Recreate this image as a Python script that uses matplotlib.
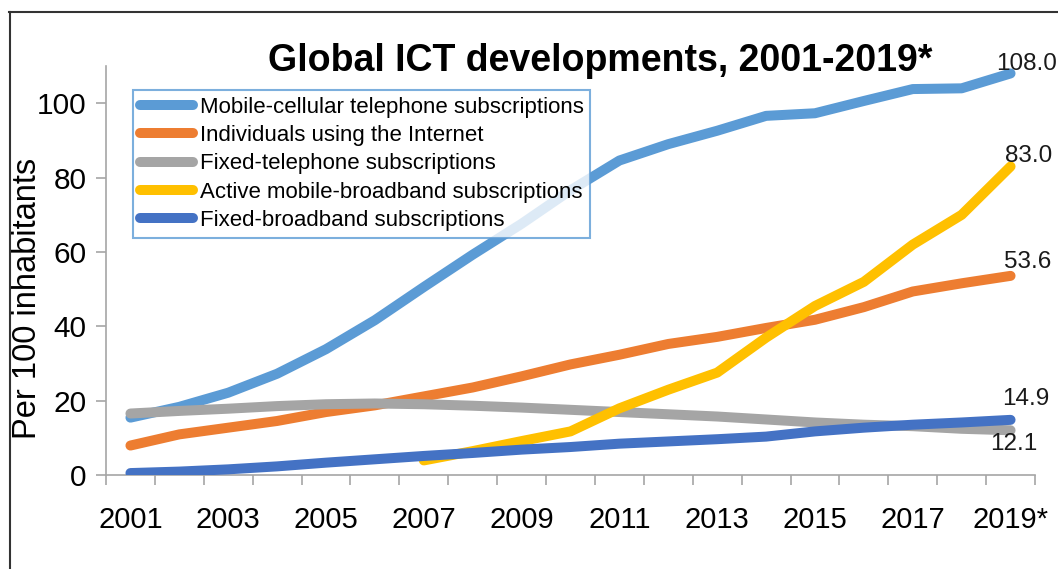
import matplotlib
matplotlib.use("Agg")
import matplotlib.pyplot as plt
import numpy as np

plt.rcParams['font.family'] = ['Liberation Sans', 'DejaVu Sans']

years = [str(y) for y in range(2001, 2020)]
tick_labels = ["2001", "2003", "2005", "2007", "2009", "2011", "2013", "2015", "2017", "2019*"]

mobile_cellular = [15.5, 18.4, 22.2, 27.3, 33.9, 41.7, 50.6, 59.3, 67.6, 76.6,
                   84.6, 89.0, 92.6, 96.6, 97.3, 100.6, 103.8, 104.0, 108.0]
internet_users = [8.0, 11.0, 12.8, 14.6, 17.0, 18.8, 21.2, 23.6, 26.6, 29.8,
                  32.4, 35.3, 37.2, 39.6, 41.8, 45.2, 49.4, 51.6, 53.6]
fixed_telephone = [16.6, 17.3, 17.9, 18.6, 19.1, 19.3, 19.1, 18.7, 18.2, 17.6,
                   17.0, 16.4, 15.8, 15.0, 14.2, 13.6, 13.2, 12.5, 12.1]
mobile_broadband = [None, None, None, None, None, None, 4.0, 6.5, 9.2, 11.8,
                    18.0, 23.0, 27.6, 37.0, 45.5, 52.0, 62.0, 70.0, 83.0]
fixed_broadband = [0.6, 1.0, 1.6, 2.4, 3.4, 4.3, 5.2, 6.0, 6.9, 7.6,
                   8.5, 9.1, 9.7, 10.4, 11.8, 12.8, 13.6, 14.2, 14.9]

series = [
    ("Mobile-cellular telephone subscriptions", mobile_cellular, "#5B9BD5"),
    ("Individuals using the Internet", internet_users, "#ED7D31"),
    ("Fixed-telephone subscriptions", fixed_telephone, "#A5A5A5"),
    ("Active mobile-broadband subscriptions", mobile_broadband, "#FFC000"),
    ("Fixed-broadband subscriptions", fixed_broadband, "#4472C4"),
]
end_labels = ["108.0", "53.6", "12.1", "83.0", "14.9"]
label_offsets = [(16, 9), (17, 14), (3, -14), (18, 10), (15, 21)]

fig = plt.figure(figsize=(10.58, 5.69), dpi=100)
ax = fig.add_axes([106/1058, 1-475.3/569, (1035-106)/1058, (475.3-66)/569])

x = np.arange(len(years))
draw_order = [2, 1, 0, 3, 4]
handles = {}
for i in draw_order:
    name, vals, col = series[i]
    v = np.array([np.nan if a is None else a for a in vals], dtype=float)
    ln, = ax.plot(x, v, color=col, lw=7.2, solid_capstyle='round', label=name, zorder=2+i)
    handles[i] = ln
    dx, dy = label_offsets[i]
    ax.annotate(end_labels[i], (x[-1], v[-1]), xytext=(dx * 0.72, dy * 0.72),
                textcoords='offset points', ha='center', va='center',
                fontsize=17.5, color='#1a1a1a', zorder=10)

ax.set_xlim(-0.5, len(years) - 0.5)
ax.set_ylim(0, 110)
ax.set_yticks([0, 20, 40, 60, 80, 100])
ax.set_xticks([years.index(t.rstrip('*')) for t in tick_labels])
ax.set_xticklabels(tick_labels)
ax.set_xticks(np.arange(-0.5, len(years), 1.0), minor=True)
ax.tick_params(axis='x', which='major', length=0, pad=22, labelsize=21)
ax.tick_params(axis='x', which='minor', length=7.2, width=1.2, color='#A6A6A6', direction='out')
ax.tick_params(axis='y', which='major', length=7.2, width=1.2, color='#A6A6A6', pad=7, labelsize=21.5)
for s in ['top', 'right']:
    ax.spines[s].set_visible(False)
for s in ['left', 'bottom']:
    ax.spines[s].set_color('#A6A6A6')
    ax.spines[s].set_linewidth(1.2)

fig.text(28/1058, 1-298/569, "Per 100 inhabitants", rotation=90, ha='center', va='center', fontsize=23.5)
fig.text(600/1058, 1-61/569, "Global ICT developments, 2001-2019*", ha='center', va='center',
         fontsize=27, fontweight='bold')

leg = ax.legend([handles[i] for i in range(5)], [s[0] for s in series],
                loc='upper left', bbox_to_anchor=(133/1058, 1-90/569), bbox_transform=fig.transFigure,
                fontsize=16, frameon=True, fancybox=False, handlelength=2.4, handletextpad=0.3,
                labelspacing=0.33, borderpad=0.3, borderaxespad=0)
leg.get_frame().set_edgecolor('#5B9BD5')
leg.get_frame().set_linewidth(1.5)
leg.set_zorder(20)

# outer frame (top and left edges)
fig.add_artist(plt.Line2D([9/1058, 1.0], [1-11.5/569, 1-11.5/569], transform=fig.transFigure, color='#333333', lw=1.5))
fig.add_artist(plt.Line2D([10/1058, 10/1058], [0, 1-11.5/569], transform=fig.transFigure, color='#333333', lw=1.5))

fig.savefig("out.png", dpi=100)
